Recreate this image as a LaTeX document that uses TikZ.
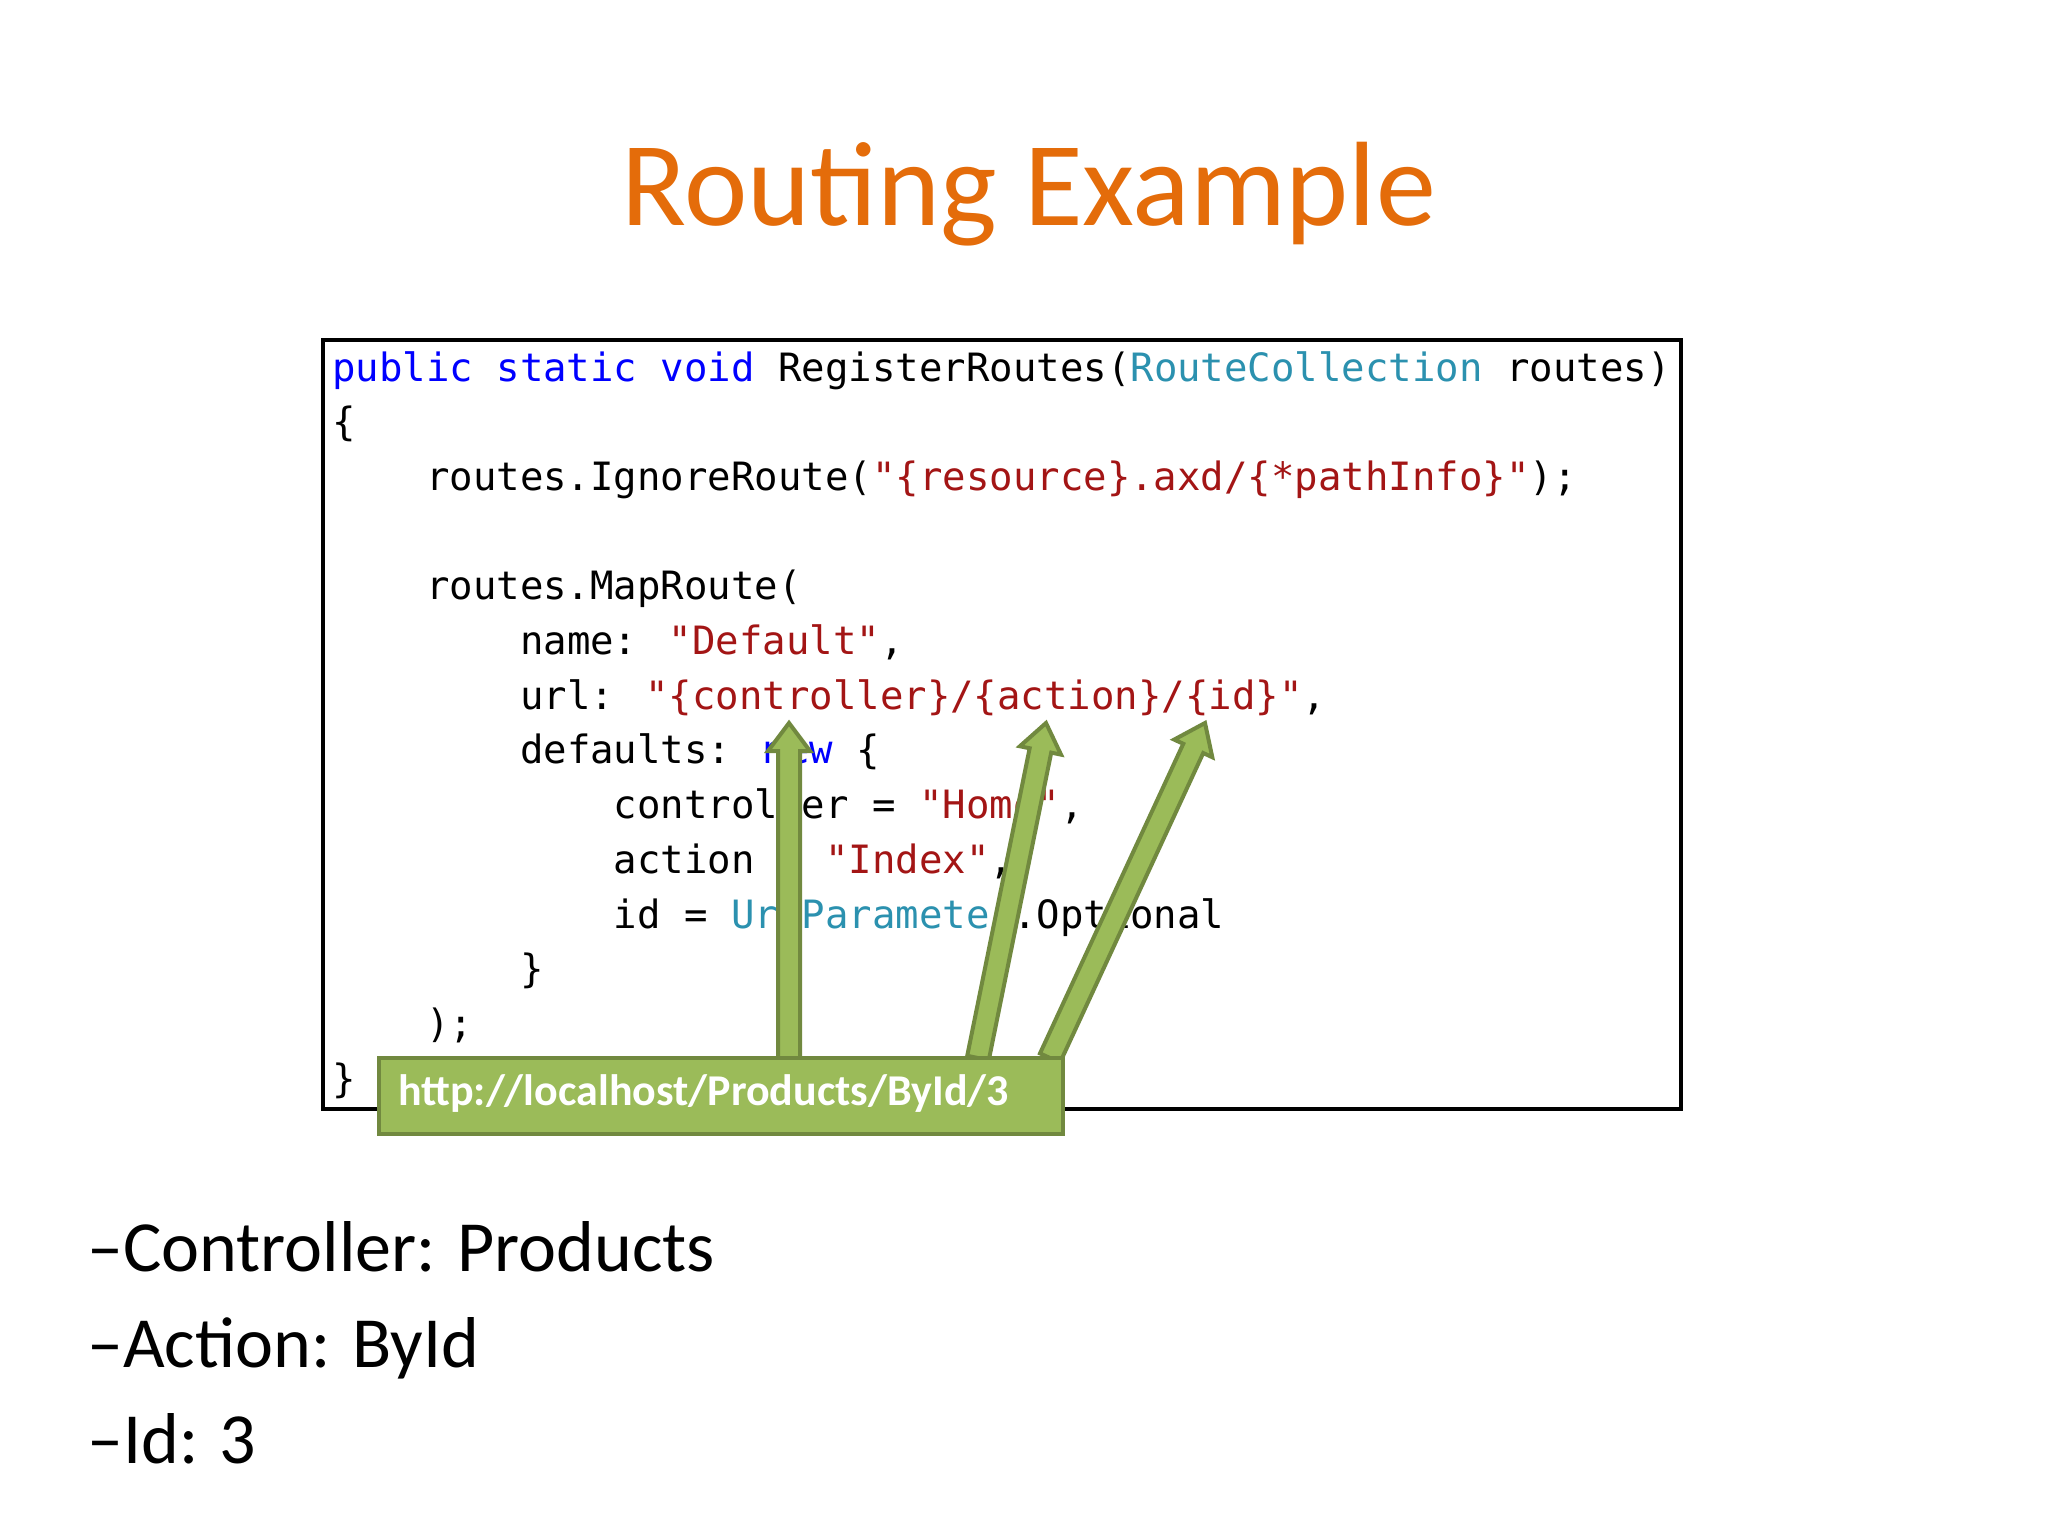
\documentclass[tikz,border=0pt]{standalone}
\usepackage{fontspec}
\setmainfont{Carlito}
\newfontfamily\codefont{DejaVu Sans Mono}
\usetikzlibrary{calc}
\definecolor{ttl}{HTML}{E46C0A}
\definecolor{kw}{HTML}{0000FF}
\definecolor{ty}{HTML}{2B91AF}
\definecolor{st}{HTML}{A31515}
\definecolor{gfill}{HTML}{9BBB59}
\definecolor{gline}{HTML}{71893F}
\tikzset{
  code/.style={anchor=base west, inner sep=0pt, font=\codefont\fontsize{39}{40}\selectfont},
  bullet/.style={anchor=base west, inner sep=0pt, font=\fontsize{72}{80}\selectfont},
  garrow/.style={fill=gfill, draw=gline, line width=4pt, line join=miter}
}
\newcommand\greenarrow[2]{%
  \path[garrow] ($(#1)!11pt!90:(#2)$) -- ($($(#2)!28pt!(#1)$)!11pt!-90:(#1)$) -- ($($(#2)!28pt!(#1)$)!21pt!-90:(#1)$) -- (#2) -- ($($(#2)!28pt!(#1)$)!21pt!90:(#1)$) -- ($($(#2)!28pt!(#1)$)!11pt!90:(#1)$) -- ($(#1)!11pt!-90:(#2)$) -- cycle;}
\begin{document}
\begin{tikzpicture}[x=1pt,y=-1pt]
\useasboundingbox (0,0) rectangle (2048,1536);
\fill[white] (0,0) rectangle (2048,1536);
\node[text=ttl, font=\fontsize{120}{130}\selectfont, inner sep=0pt] (title) at (1029,194) {Routing Example};
\draw[line width=4pt] (323,340) rectangle (1681,1109);
\def\cx#1{332+#1*23.48}
\def\cy#1{381+#1*54.7}
\node[code] (l1) at ({\cx0},{\cy0}) {\textcolor{kw}{public static void} RegisterRoutes(\textcolor{ty}{RouteCollection} routes)};
\node[code] (l2) at ({\cx0},{\cy1}) {\{};
\node[code] (l3) at ({\cx4},{\cy2}) {routes.IgnoreRoute(\textcolor{st}{"\{resource\}.axd/\{*pathInfo\}"});};
\node[code] (l5) at ({\cx4},{\cy4}) {routes.MapRoute(};
\node[code] (l6) at ({\cx8},{\cy5}) {name: \textcolor{st}{"Default"},};
\node[code] (l7) at ({\cx8},{\cy6}) {url: \textcolor{st}{"\{controller\}/\{action\}/\{id\}"},};
\node[code] (l8) at ({\cx8},{\cy7}) {defaults: \textcolor{kw}{new} \{};
\node[code] (l9) at ({\cx{12}},{\cy8}) {controller = \textcolor{st}{"Home"},};
\node[code] (l10) at ({\cx{12}},{\cy9}) {action = \textcolor{st}{"Index"},};
\node[code] (l11) at ({\cx{12}},{\cy{10}}) {id = \textcolor{ty}{UrlParameter}.Optional};
\node[code] (l12) at ({\cx8},{\cy{11}}) {\}};
\node[code] (l13) at ({\cx4},{\cy{12}}) {);};
\node[code] (l14) at ({\cx0},{\cy{13}}) {\}};
\coordinate (a1) at (789,1058); \coordinate (t1) at (789,723);
\coordinate (a2) at (978,1058); \coordinate (t2) at (1046,723);
\coordinate (a3) at (1050,1058); \coordinate (t3) at (1205,723);
\greenarrow{a1}{t1}
\greenarrow{a2}{t2}
\greenarrow{a3}{t3}
\node[fill=gfill, draw=gline, line width=4pt, minimum width=684pt, minimum height=76pt, inner sep=0pt, anchor=north west] (url) at (377,1056) {};
\node[anchor=west, text=white, font=\bfseries\fontsize{44}{48}\selectfont, inner sep=0pt] (urltext) at (398,1094) {http://localhost/Products/ById/3};
\node[bullet] (b1) at (87,1271) {–Controller: Products};
\node[bullet] (b2) at (87,1367) {–Action: ById};
\node[bullet] (b3) at (87,1463) {–Id: 3};
\end{tikzpicture}
\end{document}
